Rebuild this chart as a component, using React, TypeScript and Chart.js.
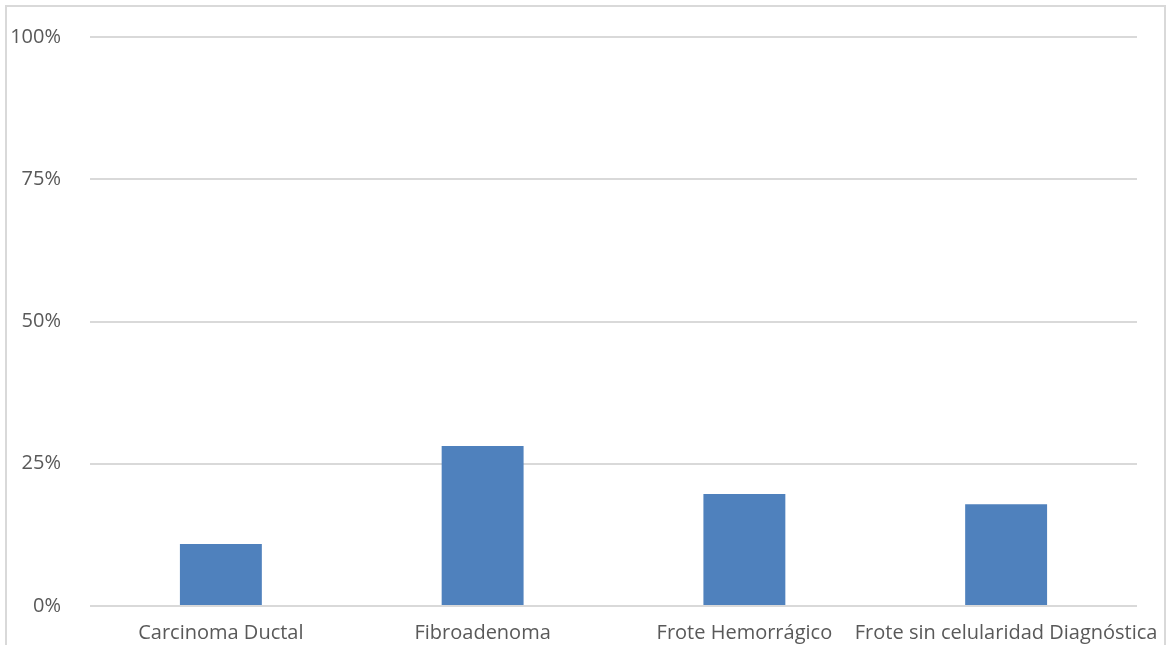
import React, { useEffect, useRef } from "react";
import { Chart, registerables } from "chart.js";

Chart.register(...registerables);

const categories = [
  "Carcinoma Ductal",
  "Fibroadenoma",
  "Frote Hemorrágico",
  "Frote sin celularidad Diagnóstica",
];
const values = [10.9, 28.1, 19.7, 17.9];
const yTicks = [0, 25, 50, 75, 100];

export default function App() {
  const ref = useRef<HTMLCanvasElement | null>(null);

  useEffect(() => {
    if (!ref.current) return;
    const chart = new Chart(ref.current, {
      type: "bar",
      data: {
        labels: categories,
        datasets: [
          {
            data: values,
            backgroundColor: "#4f81bd",
            borderWidth: 0,
            categoryPercentage: 1,
            barPercentage: 0.313,
          },
        ],
      },
      options: {
        animation: false,
        responsive: false,
        maintainAspectRatio: false,
        layout: { padding: { left: 0, top: 37, right: 29, bottom: 0 } },
        plugins: { legend: { display: false }, tooltip: { enabled: false } },
        scales: {
          x: {
            grid: { display: false, drawTicks: false },
            border: { display: false },
            ticks: {
              color: "#595959",
              font: { family: "'Open Sans', sans-serif", size: 20 },
              padding: 15,
              maxRotation: 0,
              autoSkip: false,
            },
            afterFit: (s: any) => {
              s.height = 39;
              s.paddingLeft = 0;
              s.paddingRight = 0;
            },
          },
          y: {
            min: 0,
            max: 100,
            afterBuildTicks: (s: any) => {
              s.ticks = yTicks.map((v) => ({ value: v }));
            },
            grid: { color: "#d9d9d9", lineWidth: 2, drawTicks: false },
            border: { display: false },
            ticks: {
              color: "#595959",
              font: { family: "'Open Sans', sans-serif", size: 20 },
              padding: 29,
              callback: (v: any) => v + "%",
            },
            afterFit: (s: any) => {
              s.width = 90;
              s.paddingTop = 0;
              s.paddingBottom = 0;
            },
          },
        },
      },
    });
    return () => chart.destroy();
  }, []);

  return (
    <div style={{ position: "fixed", left: 0, top: 0, width: 1166, height: 645, background: "#fff", overflow: "hidden" }}>
      <div
        style={{
          position: "absolute",
          left: 5,
          top: 5,
          width: 1157,
          height: 700,
          border: "2px solid #d9d9d9",
        }}
      />
      <canvas ref={ref} width={1166} height={645} style={{ position: "absolute", left: 0, top: 0 }} />
    </div>
  );
}
